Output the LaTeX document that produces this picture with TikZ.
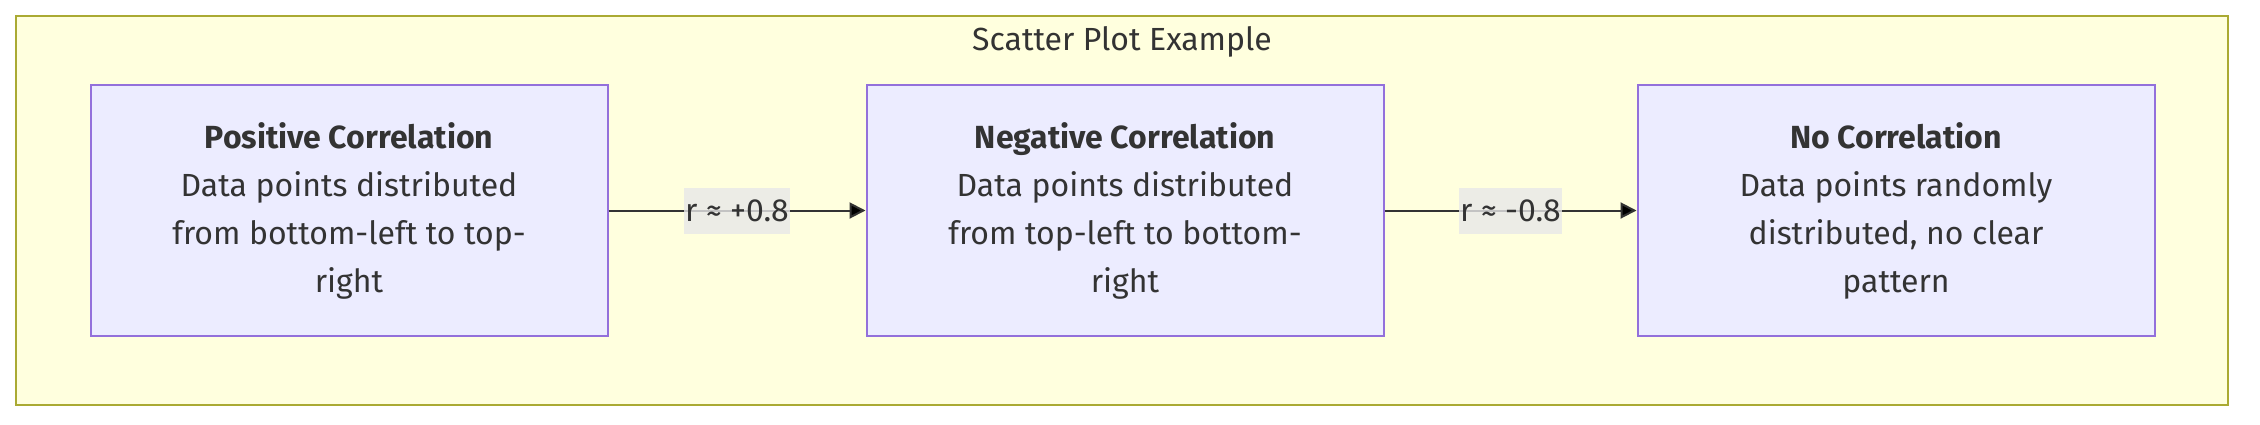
\documentclass[tikz,border=0pt]{standalone}
\usepackage{fontspec}
\setmainfont{Fira Sans}
\usetikzlibrary{positioning, arrows.meta}
\definecolor{ink}{HTML}{333333}
\definecolor{groupfill}{HTML}{FFFFDE}
\definecolor{groupline}{HTML}{AAAA33}
\definecolor{boxfill}{HTML}{ECECFF}
\definecolor{boxline}{HTML}{9370DB}
\definecolor{tagfill}{HTML}{E8E8E8}
\tikzset{
    corr/.style={rectangle, draw=boxline, fill=boxfill, line width=1pt,
        minimum width=258.5pt, minimum height=125.5pt, align=center,
        text=ink, font=\fontsize{16}{24}\selectfont},
    tag/.style={fill=tagfill, fill opacity=0.8, text opacity=1, text=ink,
        inner xsep=0.5pt, inner ysep=0pt, minimum height=23pt,
        font=\fontsize{16}{24}\selectfont},
    link/.style={draw=ink, line width=1pt, -{Triangle[length=8pt, width=8pt]}},
    node distance=128pt
}

\begin{document}
\begin{tikzpicture}
    \useasboundingbox (0,0) rectangle (1130pt,-212pt);
    \draw[groupline, fill=groupfill, line width=1pt] (8pt,-8pt) rectangle (1114pt,-202.5pt);
    \node[text=ink, font=\fontsize{16}{24}\selectfont, anchor=base] (t) at (561pt,-25pt) {Scatter Plot Example};

    \node[corr] (p) at (174.5pt,-105.25pt)
        {\textbf{Positive Correlation}\\Data points distributed\\from bottom-left to top-\\right};
    \node[corr] (n) [right=128.5pt of p]
        {\textbf{Negative Correlation}\\Data points distributed\\from top-left to bottom-\\right};
    \node[corr] (o) [right=126pt of n]
        {\textbf{No Correlation}\\Data points randomly\\distributed, no clear\\pattern};

    \path[link] (p) edge node[tag]{r ≈ +0.8} (n)
                (n) edge node[tag]{r ≈ -0.8} (o);
\end{tikzpicture}
\end{document}
